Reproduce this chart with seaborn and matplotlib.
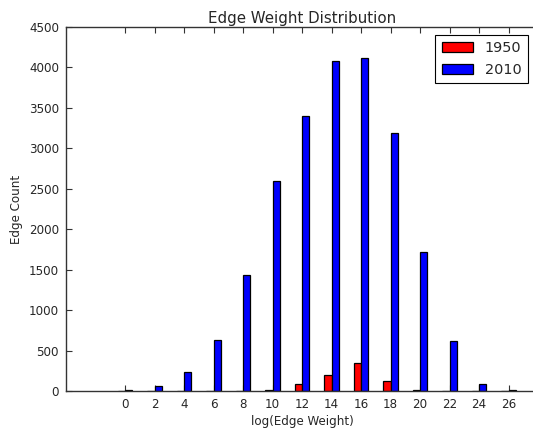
import matplotlib
matplotlib.use("Agg")
import matplotlib.pyplot as plt
import seaborn as sns
import pandas as pd

bins = [0, 2, 4, 6, 8, 10, 12, 14, 16, 18, 20, 22, 24, 26]
counts_1950 = [0, 0, 0, 0, 0, 10, 83, 201, 342, 127, 12, 0, 0, 0]
counts_2010 = [12, 62, 231, 630, 1430, 2600, 3400, 4080, 4120, 3190, 1720, 614, 90, 8]
years = ["1950", "2010"]
colors = {"1950": "red", "2010": "blue"}

df = pd.DataFrame({
    "x": bins * 2,
    "count": counts_1950 + counts_2010,
    "year": [years[0]] * len(bins) + [years[1]] * len(bins),
})

sns.set_style("ticks")
plt.rcParams["font.family"] = ["DejaVu Sans"]

fig = plt.figure(figsize=(5.33, 4.28), dpi=100)
ax = fig.add_axes([66 / 533, 37 / 428, 472 / 533, 364 / 428])

sns.barplot(data=df, x="x", y="count", hue="year", native_scale=True,
            width=0.5, palette=colors, edgecolor="black", linewidth=0.9,
            saturation=1, ax=ax, errorbar=None)

ax.set_xlim(-4, 28)
ax.set_ylim(0, 4500)
ax.set_xticks(bins)
ax.set_xticklabels([str(b) for b in bins], fontsize=8.6)
ax.set_yticks(range(0, 4501, 500))
ax.set_yticklabels([str(v) for v in range(0, 4501, 500)], fontsize=8.6)
ax.tick_params(direction="in", top=True, right=False, length=4, width=0.8, color="#333333", pad=5)
for s in ax.spines.values():
    s.set_visible(True)
    s.set_color("#333333")
    s.set_linewidth(1.0)

ax.set_xlabel("log(Edge Weight)", fontsize=8.6, labelpad=3)
ax.set_ylabel("Edge Count", fontsize=8.6, labelpad=4)
ax.set_title("Edge Weight Distribution", fontsize=10.8, pad=3)

handles, labels = ax.get_legend_handles_labels()
leg = ax.legend(handles, labels, loc="upper right", fontsize=10.37, frameon=True,
                fancybox=False, edgecolor="black", framealpha=1,
                handlelength=2.2, handleheight=0.7, borderaxespad=0,
                borderpad=0.45, labelspacing=0.5,
                bbox_to_anchor=(1 - 10 / 472, 1 - 8 / 364), title=None)
leg.get_frame().set_linewidth(0.8)

fig.savefig("out.png", dpi=100)
